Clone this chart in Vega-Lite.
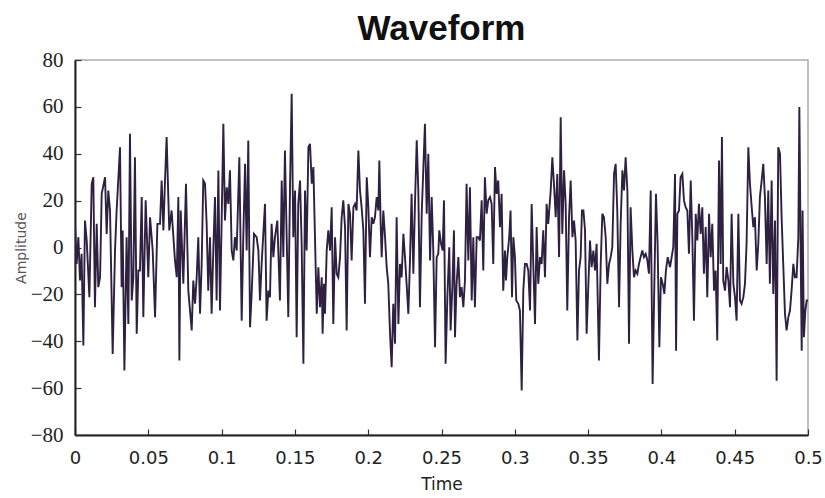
{
  "$schema": "https://vega.github.io/schema/vega-lite/v6.json",
  "width": 733,
  "height": 375,
  "autosize": {"type": "none"},
  "padding": {"left": 75, "top": 60, "right": 17, "bottom": 63},
  "background": "white",
  "title": {"text": "Waveform", "fontSize": 35, "fontWeight": "bold", "font": "Liberation Sans", "color": "#111111", "anchor": "middle", "offset": 2},
  "config": {"view": {"stroke": "#aaaaaa", "strokeWidth": 1.5}},
  "data": {"values": [
    {"t":0,"a":10.1},{"t":0.0011,"a":-7.0},{"t":0.0023,"a":4.4},{"t":0.0034,"a":-14.1},{"t":0.0045,"a":-2.7},{"t":0.0057,"a":-41.8},{"t":0.0068,"a":11.5},{"t":0.008,"a":3.0},{"t":0.0098,"a":-21.2},{"t":0.0114,"a":27.2},{"t":0.0125,"a":30.0},{"t":0.0136,"a":-25.5},{"t":0.0148,"a":10.1},{"t":0.0159,"a":-16.9},{"t":0.0171,"a":-12.7},{"t":0.0182,"a":22.9},{"t":0.0205,"a":30.0},{"t":0.0216,"a":5.8},{"t":0.0227,"a":24.3},{"t":0.0239,"a":15.8},{"t":0.0257,"a":-45.4},{"t":0.0273,"a":-1.3},{"t":0.0284,"a":15.8},{"t":0.0307,"a":42.8},{"t":0.0318,"a":-16.9},{"t":0.0325,"a":7.3},{"t":0.0337,"a":-52.5},{"t":0.0352,"a":4.4},{"t":0.0364,"a":-32.6},{"t":0.0375,"a":48.5},{"t":0.0387,"a":-22.6},{"t":0.0398,"a":-12.7},{"t":0.0409,"a":38.5},{"t":0.0421,"a":-36.8},{"t":0.0432,"a":-9.8},{"t":0.0443,"a":-9.8},{"t":0.0455,"a":21.5},{"t":0.0466,"a":-29.7},{"t":0.0482,"a":20.1},{"t":0.05,"a":-12.7},{"t":0.0512,"a":12.9},{"t":0.053,"a":-1.3},{"t":0.0546,"a":-29.7},{"t":0.0562,"a":10.1},{"t":0.058,"a":10.1},{"t":0.0591,"a":28.6},{"t":0.0603,"a":7.3},{"t":0.0614,"a":28.6},{"t":0.0625,"a":47.1},{"t":0.0643,"a":7.3},{"t":0.0659,"a":15.8},{"t":0.0682,"a":-5.5},{"t":0.0694,"a":-12.7},{"t":0.0705,"a":21.5},{"t":0.0712,"a":-48.2},{"t":0.0721,"a":15.8},{"t":0.0739,"a":-15.5},{"t":0.0757,"a":27.2},{"t":0.0773,"a":-18.4},
    {"t":0.0796,"a":-35.4},{"t":0.0807,"a":-14.1},{"t":0.0819,"a":-24.0},{"t":0.083,"a":-12.7},{"t":0.0841,"a":4.4},{"t":0.0853,"a":-28.3},{"t":0.0864,"a":-7.0},{"t":0.0875,"a":28.6},{"t":0.0887,"a":27.2},{"t":0.0898,"a":10.1},{"t":0.0909,"a":-18.4},{"t":0.0921,"a":4.4},{"t":0.0932,"a":-28.3},{"t":0.0944,"a":0.1},{"t":0.0955,"a":21.5},{"t":0.0966,"a":-22.6},{"t":0.0978,"a":32.9},{"t":0.0989,"a":-26.9},{"t":0.1,"a":10.1},{"t":0.1012,"a":52.8},{"t":0.1023,"a":11.5},{"t":0.1035,"a":25.7},{"t":0.1046,"a":18.6},{"t":0.1057,"a":32.9},{"t":0.1069,"a":-1.3},{"t":0.108,"a":-5.5},{"t":0.1091,"a":4.4},{"t":0.1103,"a":-1.3},{"t":0.1121,"a":38.5},{"t":0.1137,"a":-31.2},{"t":0.1148,"a":4.4},{"t":0.116,"a":35.7},{"t":0.1171,"a":-1.3},{"t":0.1182,"a":45.7},{"t":0.1194,"a":-34.0},{"t":0.1205,"a":-19.8},{"t":0.1221,"a":5.8},{"t":0.1239,"a":4.4},{"t":0.1251,"a":-1.3},{"t":0.1262,"a":-22.6},{"t":0.1273,"a":-7.0},{"t":0.1296,"a":18.6},{"t":0.1307,"a":-31.2},{"t":0.1319,"a":-18.4},{"t":0.133,"a":-21.2},{"t":0.1341,"a":10.1},{"t":0.1353,"a":-4.1},{"t":0.1364,"a":4.4},{"t":0.138,"a":11.5},{"t":0.1398,"a":-22.6},{"t":0.141,"a":28.6},{"t":0.1421,"a":-4.1},{"t":0.1432,"a":41.4},{"t":0.1444,"a":4.4},{"t":0.1455,"a":-29.7},{"t":0.1467,"a":27.2},{"t":0.1478,"a":65.6},{"t":0.1489,"a":4.4},{"t":0.1501,"a":24.3},{"t":0.1512,"a":-38.3},{"t":0.1523,"a":18.6},{"t":0.1535,"a":28.6},{"t":0.1546,"a":1.6},{"t":0.1558,"a":-49.6},{"t":0.1569,"a":24.3},{"t":0.158,"a":-1.3},{"t":0.1592,"a":42.8},
    {"t":0.1603,"a":44.2},{"t":0.1615,"a":27.2},{"t":0.1626,"a":34.3},{"t":0.1637,"a":4.4},{"t":0.1649,"a":-28.3},{"t":0.166,"a":-8.4},{"t":0.1671,"a":-25.5},{"t":0.1683,"a":-12.7},{"t":0.1689,"a":-36.8},{"t":0.1698,"a":-15.5},{"t":0.1705,"a":-28.3},{"t":0.1717,"a":-1.3},{"t":0.1728,"a":7.3},{"t":0.174,"a":-1.3},{"t":0.1751,"a":17.2},{"t":0.1762,"a":-32.6},{"t":0.1774,"a":4.4},{"t":0.1785,"a":-11.2},{"t":0.1796,"a":-12.7},{"t":0.1808,"a":-4.1},{"t":0.1819,"a":12.9},{"t":0.183,"a":20.1},{"t":0.1842,"a":8.7},{"t":0.1853,"a":-35.4},{"t":0.1865,"a":18.6},{"t":0.1876,"a":14.4},{"t":0.1887,"a":-5.5},{"t":0.1899,"a":17.2},{"t":0.191,"a":18.6},{"t":0.1921,"a":15.8},{"t":0.1933,"a":41.4},{"t":0.1944,"a":24.3},{"t":0.1955,"a":17.2},{"t":0.1967,"a":7.3},{"t":0.1978,"a":-24.0},{"t":0.199,"a":30.0},{"t":0.2001,"a":17.2},{"t":0.2012,"a":-4.1},{"t":0.2024,"a":12.9},{"t":0.2035,"a":10.1},{"t":0.2046,"a":12.9},{"t":0.2058,"a":21.5},{"t":0.2069,"a":15.8},{"t":0.2076,"a":37.1},{"t":0.2085,"a":10.1},{"t":0.2092,"a":-4.1},{"t":0.2103,"a":15.8},{"t":0.2115,"a":4.4},{"t":0.2126,"a":-8.4},{"t":0.2137,"a":-15.5},{"t":0.2149,"a":-36.8},{"t":0.216,"a":-51.1},{"t":0.2171,"a":-24.0},{"t":0.2183,"a":-41.1},{"t":0.2194,"a":12.9},{"t":0.2206,"a":-32.6},{"t":0.2217,"a":-7.0},{"t":0.2228,"a":-12.7},{"t":0.224,"a":5.8},{"t":0.2251,"a":-4.1},{"t":0.2262,"a":-15.5},{"t":0.2274,"a":-28.3},{"t":0.2285,"a":-5.5},{"t":0.2296,"a":22.9},{"t":0.2308,"a":-11.2},{"t":0.2319,"a":18.6},{"t":0.2331,"a":45.7},{"t":0.2342,"a":24.3},{"t":0.2353,"a":-25.5},{"t":0.2365,"a":14.4},{"t":0.2387,"a":52.8},{"t":0.2399,"a":14.4},{"t":0.241,"a":40.0},
    {"t":0.2422,"a":-5.5},{"t":0.2433,"a":21.5},{"t":0.2444,"a":-1.3},{"t":0.2456,"a":-42.5},{"t":0.2467,"a":-4.1},{"t":0.2478,"a":-2.7},{"t":0.2485,"a":7.3},{"t":0.2497,"a":1.6},{"t":0.2508,"a":-1.3},{"t":0.2517,"a":20.1},{"t":0.2528,"a":-49.6},{"t":0.254,"a":-21.2},{"t":0.2553,"a":0.1},{"t":0.2562,"a":-35.4},{"t":0.2574,"a":-16.9},{"t":0.2585,"a":7.3},{"t":0.2592,"a":-38.3},{"t":0.2603,"a":-15.5},{"t":0.2615,"a":-4.1},{"t":0.2626,"a":-21.2},{"t":0.2637,"a":-16.9},{"t":0.2649,"a":-25.5},{"t":0.266,"a":-14.1},{"t":0.2671,"a":27.2},{"t":0.2683,"a":-5.5},{"t":0.2694,"a":25.7},{"t":0.2706,"a":-22.6},{"t":0.2717,"a":4.4},{"t":0.2728,"a":-25.5},{"t":0.274,"a":4.4},{"t":0.2751,"a":4.4},{"t":0.2762,"a":3.0},{"t":0.2774,"a":20.1},{"t":0.2785,"a":-9.8},{"t":0.2796,"a":30.0},{"t":0.2808,"a":14.4},{"t":0.2819,"a":20.1},{"t":0.2831,"a":21.5},{"t":0.2842,"a":18.6},{"t":0.2853,"a":-7.0},{"t":0.2865,"a":34.3},{"t":0.2876,"a":22.9},{"t":0.2887,"a":28.6},{"t":0.2899,"a":8.7},{"t":0.291,"a":22.9},{"t":0.2921,"a":-18.4},{"t":0.2933,"a":-1.3},{"t":0.294,"a":-14.1},{"t":0.2949,"a":-4.1},{"t":0.2962,"a":4.4},{"t":0.2971,"a":15.8},{"t":0.2981,"a":-21.2},{"t":0.299,"a":4.4},{"t":0.3001,"a":-4.1},{"t":0.301,"a":-22.6},{"t":0.3024,"a":-24.0},{"t":0.3035,"a":-26.9},{"t":0.3047,"a":-61.0},{"t":0.3058,"a":-18.4},{"t":0.3069,"a":-7.0},{"t":0.3081,"a":-7.0},{"t":0.3092,"a":-9.8},{"t":0.3104,"a":-26.9},{"t":0.3115,"a":18.6},{"t":0.3126,"a":-7.0},{"t":0.3138,"a":-32.6},{"t":0.3149,"a":8.7},{"t":0.316,"a":-15.5},{"t":0.3172,"a":-4.1},{"t":0.3183,"a":-7.0},{"t":0.3194,"a":7.3},{"t":0.3206,"a":-12.7},{"t":0.3217,"a":18.6},{"t":0.3228,"a":10.1},
    {"t":0.3245,"a":24.3},{"t":0.3256,"a":38.5},{"t":0.3267,"a":27.2},{"t":0.3279,"a":12.9},{"t":0.329,"a":31.4},{"t":0.3302,"a":-4.1},{"t":0.3313,"a":55.6},{"t":0.3324,"a":5.8},{"t":0.3336,"a":32.9},{"t":0.3347,"a":18.6},{"t":0.3358,"a":-26.9},{"t":0.337,"a":12.9},{"t":0.3381,"a":28.6},{"t":0.3393,"a":4.4},{"t":0.3404,"a":11.5},{"t":0.3415,"a":3.0},{"t":0.3427,"a":-39.7},{"t":0.3438,"a":-9.8},{"t":0.3449,"a":-4.1},{"t":0.3458,"a":15.8},{"t":0.3468,"a":15.8},{"t":0.3479,"a":7.3},{"t":0.349,"a":-36.8},{"t":0.3502,"a":-15.5},{"t":0.3513,"a":3.0},{"t":0.3524,"a":-8.4},{"t":0.3536,"a":-1.3},{"t":0.3547,"a":-9.8},{"t":0.3558,"a":1.6},{"t":0.3574,"a":-48.2},{"t":0.3586,"a":-7.0},{"t":0.3597,"a":14.4},{"t":0.3608,"a":12.9},{"t":0.362,"a":4.4},{"t":0.3631,"a":-15.5},{"t":0.3643,"a":-7.0},{"t":0.3654,"a":-4.1},{"t":0.3665,"a":0.1},{"t":0.3677,"a":31.4},{"t":0.3688,"a":35.7},{"t":0.3699,"a":15.8},{"t":0.3711,"a":-25.5},{"t":0.3722,"a":10.1},{"t":0.3734,"a":32.9},{"t":0.3745,"a":24.3},{"t":0.3756,"a":38.5},{"t":0.3768,"a":24.3},{"t":0.3779,"a":-41.1},{"t":0.379,"a":17.2},{"t":0.3802,"a":-1.3},{"t":0.3813,"a":-12.7},{"t":0.3824,"a":-9.8},{"t":0.3836,"a":-11.2},{"t":0.3847,"a":-7.0},{"t":0.3858,"a":-4.1},{"t":0.387,"a":-1.3},{"t":0.3881,"a":-4.1},{"t":0.3893,"a":-2.7},{"t":0.3904,"a":-5.5},{"t":0.3915,"a":-11.2},{"t":0.3927,"a":24.3},{"t":0.394,"a":-58.2},{"t":0.3952,"a":-15.5},{"t":0.3963,"a":22.9},{"t":0.3974,"a":1.6},{"t":0.3986,"a":-42.5},{"t":0.3997,"a":-12.7},{"t":0.4009,"a":-15.5},{"t":0.402,"a":-19.8},{"t":0.4031,"a":-9.8},{"t":0.4043,"a":-4.1},
    {"t":0.4059,"a":-8.4},{"t":0.407,"a":-4.1},{"t":0.4081,"a":0.1},{"t":0.4093,"a":31.4},{"t":0.41,"a":-44.0},{"t":0.4109,"a":14.4},{"t":0.412,"a":15.8},{"t":0.4131,"a":30.0},{"t":0.4143,"a":31.4},{"t":0.4154,"a":20.1},{"t":0.4165,"a":17.2},{"t":0.4177,"a":15.8},{"t":0.4188,"a":-2.7},{"t":0.42,"a":28.6},{"t":0.4211,"a":4.4},{"t":0.4222,"a":-31.2},{"t":0.4234,"a":14.4},{"t":0.4245,"a":3.0},{"t":0.4256,"a":18.6},{"t":0.4268,"a":5.8},{"t":0.4279,"a":17.2},{"t":0.429,"a":-11.2},{"t":0.4302,"a":8.7},{"t":0.4313,"a":-21.2},{"t":0.4325,"a":14.4},{"t":0.4336,"a":-4.1},{"t":0.4347,"a":10.1},{"t":0.4359,"a":-18.4},{"t":0.437,"a":-9.8},{"t":0.4381,"a":-39.7},{"t":0.4393,"a":37.1},{"t":0.4404,"a":-7.0},{"t":0.4413,"a":47.1},{"t":0.4422,"a":-14.1},{"t":0.4434,"a":-18.4},{"t":0.4445,"a":-8.4},{"t":0.4457,"a":-14.1},{"t":0.4468,"a":-25.5},{"t":0.4479,"a":14.4},{"t":0.4491,"a":-15.5},{"t":0.4502,"a":-21.2},{"t":0.4513,"a":-31.2},{"t":0.4525,"a":14.4},{"t":0.4536,"a":-22.6},{"t":0.4547,"a":-24.0},{"t":0.4559,"a":-21.2},{"t":0.457,"a":-15.5},{"t":0.4581,"a":1.6},{"t":0.4593,"a":42.8},{"t":0.4604,"a":27.2},{"t":0.4616,"a":17.2},{"t":0.4627,"a":8.7},{"t":0.4638,"a":12.9},{"t":0.465,"a":-9.8},{"t":0.4661,"a":1.6},{"t":0.4672,"a":21.5},{"t":0.4684,"a":28.6},{"t":0.4695,"a":35.7},{"t":0.4706,"a":21.5},{"t":0.4718,"a":-7.0},{"t":0.4729,"a":24.3},{"t":0.474,"a":-15.5},{"t":0.4752,"a":28.6},{"t":0.4763,"a":-19.8},{"t":0.4775,"a":11.5},{"t":0.4786,"a":-56.8},{"t":0.4797,"a":42.8},{"t":0.4809,"a":40.0},{"t":0.482,"a":12.9},{"t":0.4831,"a":-7.0},{"t":0.4843,"a":-28.3},{"t":0.4854,"a":-35.4},{"t":0.4866,"a":-29.7},{"t":0.4877,"a":-26.9},{"t":0.4888,"a":-18.4},{"t":0.49,"a":-7.0},{"t":0.4911,"a":-12.7},{"t":0.4922,"a":-12.7},{"t":0.4934,"a":4.4},{"t":0.4941,"a":59.9},{"t":0.495,"a":-2.7},{"t":0.4957,"a":-44.0},{"t":0.4963,"a":15.8},{"t":0.4972,"a":-38.3},{"t":0.4982,"a":-26.9},{"t":0.4991,"a":-22.6},{"t":0.5,"a":-22.6}
  ]},
  "mark": {"type": "line", "color": "#2e2040", "strokeWidth": 1.9, "clip": true},
  "encoding": {
    "x": {
      "field": "t", "type": "quantitative",
      "scale": {"domain": [0, 0.5], "nice": false, "zero": false},
      "axis": {
        "title": "Time", "titleFont": "DejaVu Sans", "titleFontSize": 17, "titleFontWeight": "normal", "titleColor": "#222222", "titlePadding": 9,
        "values": [0, 0.05, 0.1, 0.15, 0.2, 0.25, 0.3, 0.35, 0.4, 0.45, 0.5],
        "format": ".2~f", "labelFont": "DejaVu Sans", "labelFontSize": 18, "labelColor": "#222222", "labelPadding": 20,
        "tickSize": -6, "tickColor": "#333333", "tickWidth": 1.2,
        "domainColor": "#222222", "domainWidth": 2, "grid": false, "labelFlush": false
      }
    },
    "y": {
      "field": "a", "type": "quantitative",
      "scale": {"domain": [-80, 80], "nice": false, "zero": false},
      "axis": {
        "title": "Amplitude", "titleFont": "DejaVu Sans", "titleFontSize": 14, "titleFontWeight": "normal", "titleColor": "#555555", "titlePadding": 2,
        "values": [-80, -60, -40, -20, 0, 20, 40, 60, 80],
        "labelFont": "Liberation Serif", "labelFontSize": 21, "labelColor": "#222222", "labelPadding": 18,
        "tickSize": -6, "tickColor": "#333333", "tickWidth": 1.2,
        "domainColor": "#222222", "domainWidth": 2, "grid": false, "labelFlush": false
      }
    }
  }
}
